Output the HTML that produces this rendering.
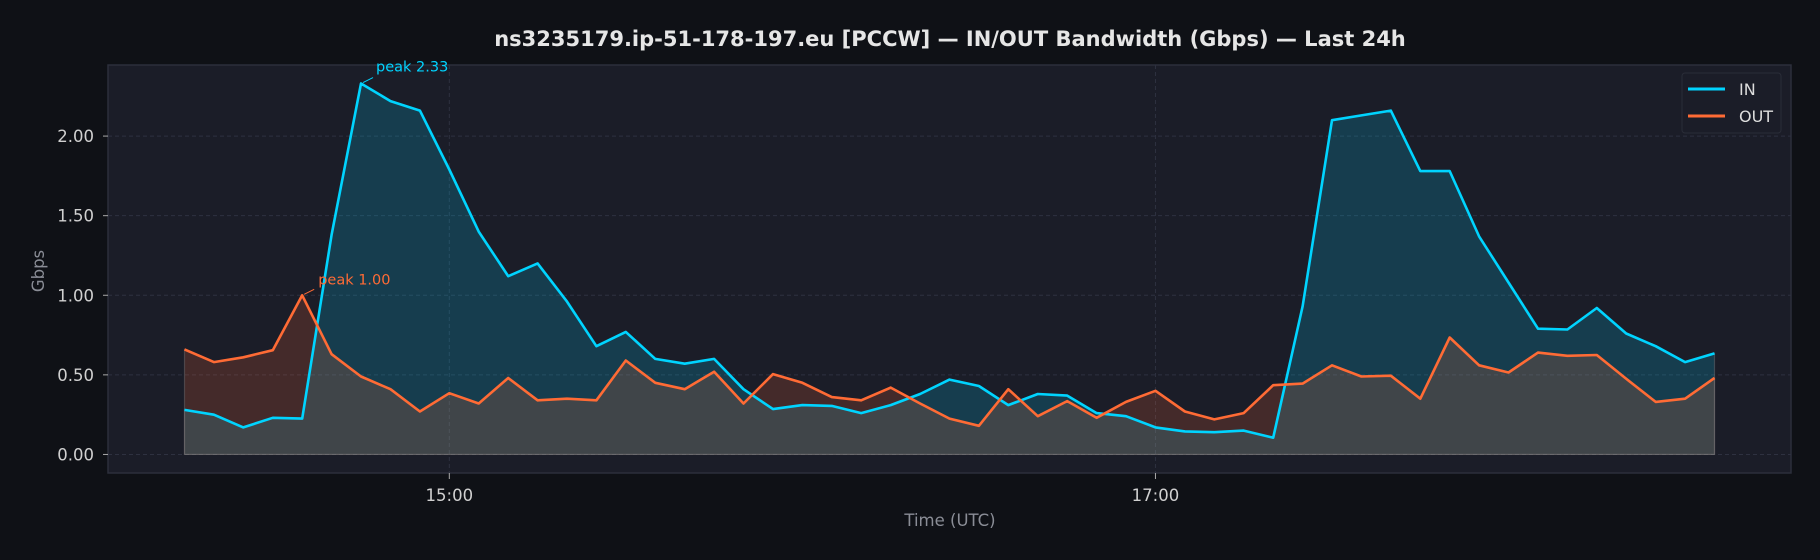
<!DOCTYPE html>
<html><head><meta charset="utf-8"><style>
html,body{margin:0;padding:0;background:#0f1116;}
svg{display:block;font-family:"DejaVu Sans","Liberation Sans",sans-serif;}
</style></head><body>
<svg id="chart" width="1820" height="560" viewBox="0 0 1820 560" xmlns="http://www.w3.org/2000/svg">
<rect x="0" y="0" width="1820" height="560" fill="#0f1116"/>
<text x="950" y="46" text-anchor="middle" fill="#e6e6e6" font-size="21" font-weight="bold">ns3235179.ip-51-178-197.eu [PCCW] — IN/OUT Bandwidth (Gbps) — Last 24h</text>
<rect x="108" y="65" width="1683" height="408" fill="#1b1d28" stroke="#2c2f3b" stroke-width="1.5"/>
<g id="grid"></g>
<g id="fills"></g>
<g id="lines"></g>
<g id="axes"></g>
<text x="950" y="526" text-anchor="middle" fill="#8a8d96" font-size="16.5">Time (UTC)</text>
<text transform="translate(44,271) rotate(-90)" text-anchor="middle" fill="#8a8d96" font-size="16.5">Gbps</text>
<g>
<rect x="1682" y="73" width="99" height="60" rx="3" fill="#1b1d28" stroke="#2a2d38"/>
<line x1="1688" y1="89" x2="1725" y2="89" stroke="#00d4ff" stroke-width="3"/>
<text x="1739" y="95" fill="#dddddd" font-size="16">IN</text>
<line x1="1688" y1="116" x2="1725" y2="116" stroke="#ff6b35" stroke-width="3"/>
<text x="1739" y="122" fill="#dddddd" font-size="16">OUT</text>
</g>
</svg>
<script>
const startMinutes = 14*60+15;
const stepMinutes = 5;
const inValues = [0.28,0.25,0.17,0.23,0.225,1.38,2.33,2.22,2.16,1.79,1.40,1.12,1.20,0.96,0.68,0.77,0.60,0.57,0.60,0.41,0.285,0.31,0.305,0.26,0.31,0.38,0.47,0.43,0.31,0.38,0.37,0.26,0.24,0.17,0.145,0.14,0.15,0.105,0.93,2.10,2.13,2.16,1.78,1.78,1.37,1.08,0.79,0.785,0.92,0.76,0.68,0.58,0.635];
const outValues = [0.66,0.58,0.61,0.655,1.00,0.63,0.49,0.41,0.27,0.385,0.32,0.48,0.34,0.35,0.34,0.59,0.45,0.41,0.52,0.32,0.505,0.45,0.36,0.34,0.42,0.32,0.225,0.18,0.41,0.24,0.335,0.23,0.33,0.40,0.27,0.22,0.26,0.435,0.445,0.56,0.49,0.495,0.35,0.735,0.56,0.515,0.64,0.62,0.625,0.475,0.33,0.35,0.48];
const yTicks = [0,0.5,1.0,1.5,2.0];
const yTickLabels = ["0.00","0.50","1.00","1.50","2.00"];
const xTickMinutes = [15*60,17*60];
const xTickLabels = ["15:00","17:00"];

const NS="http://www.w3.org/2000/svg";
const L=108,R=1791,T=65,B=473;
const n=inValues.length;
const t0=startMinutes, t1=startMinutes+(n-1)*stepMinutes;
const xm=(t1-t0)*0.05;
const allMax=Math.max(...inValues,...outValues);
const ym=allMax*0.05;
const X=m=>L+(m-(t0-xm))/((t1+xm)-(t0-xm))*(R-L);
const Y=v=>B-(v-(-ym))/((allMax+ym)-(-ym))*(B-T);
function mk(tag,attrs,parent){const e=document.createElementNS(NS,tag);for(const k in attrs)e.setAttribute(k,attrs[k]);parent.appendChild(e);return e;}
const grid=document.getElementById('grid'),axes=document.getElementById('axes'),fills=document.getElementById('fills'),lines=document.getElementById('lines');
yTicks.forEach((v,i)=>{
  const g=mk('line',{x1:L,x2:R,y1:Y(v),y2:Y(v),stroke:'#2e3140','stroke-dasharray':'4,3','stroke-width':1},grid);
  
  
  const tk=mk('line',{x1:L-5,x2:L,y1:Y(v),y2:Y(v),stroke:'#aaaaaa'},axes);
  
  
  const tx=mk('text',{x:L-14,y:Y(v)+6,'text-anchor':'end',fill:'#d0d0d0','font-size':16.5},axes);
  tx.textContent=yTickLabels[i];
  
  
});
xTickMinutes.forEach((m,i)=>{
  const g=mk('line',{x1:X(m),x2:X(m),y1:T,y2:B,stroke:'#2e3140','stroke-dasharray':'4,3'},grid);
  
  
  const tk=mk('line',{x1:X(m),x2:X(m),y1:B,y2:B+6,stroke:'#aaaaaa'},axes);
  
  
  const tx=mk('text',{x:X(m),y:B+28,'text-anchor':'middle',fill:'#d0d0d0','font-size':16.5},axes);
  tx.textContent=xTickLabels[i];
  
  
});
function pts(vals){return vals.map((v,i)=>X(t0+i*stepMinutes).toFixed(1)+','+Y(v).toFixed(1));}
function area(vals,color,name){
  const p=pts(vals);
  const d='M'+X(t0)+','+Y(0)+' L'+p.join(' L')+' L'+X(t1)+','+Y(0)+' Z';
  const e=mk('path',{d:d,fill:color,'fill-opacity':0.18,stroke:'#8a8a8a','stroke-opacity':0.35,'stroke-width':1.2},fills);
  
  
}
area(inValues,'#00d4ff','in-area');
area(outValues,'#ff6b35','out-area');
function line(vals,color,name){
  const e=mk('polyline',{points:pts(vals).join(' '),fill:'none',stroke:color,'stroke-width':2.6,'stroke-linejoin':'round'},lines);
  
  
}
line(inValues,'#00d4ff','in-line');
line(outValues,'#ff6b35','out-line');
function peak(vals,color,name,dx,dy){
  let mi=0;vals.forEach((v,i)=>{if(v>vals[mi])mi=i;});
  const px=X(t0+mi*stepMinutes),py=Y(vals[mi]);
  const a=mk('line',{x1:px+2,y1:py-1,x2:px+12,y2:py-6,stroke:color,'stroke-width':1},lines);
  
  
  const t=mk('text',{x:px+dx,y:py+dy,fill:color,'font-size':14.5},lines);
  t.textContent='peak '+vals[mi].toFixed(2);
  
  
}
peak(inValues,'#00d4ff','in-peak',15,-12);
peak(outValues,'#ff6b35','out-peak',16,-11);
</script>
</body></html>
